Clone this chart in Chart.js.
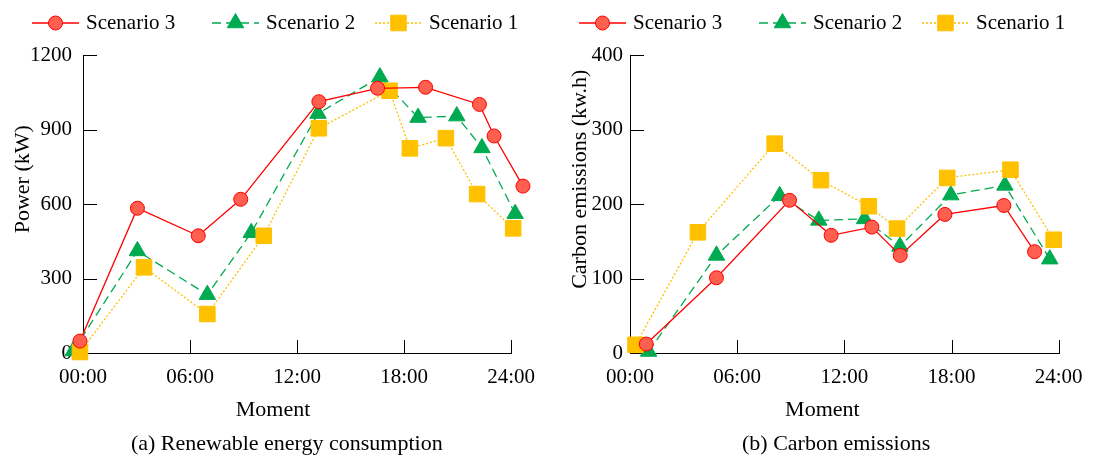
<!DOCTYPE html>
<html><head><meta charset="utf-8">
<script src="https://cdn.jsdelivr.net/npm/chart.js"></script>
<style>
html,body{margin:0;padding:0;background:#fff;}
#wrap{position:relative;width:1094px;height:457px;background:#fff;}
canvas{position:absolute;top:0;}
</style></head><body>
<div id="wrap">
<canvas id="c1" width="547" height="457" style="left:0px"></canvas>
<canvas id="c2" width="547" height="457" style="left:547px"></canvas>
</div>
<script>
// ---------- DATA ----------
const seriesNames = ['Scenario 3', 'Scenario 2', 'Scenario 1'];
const tickHours = [0, 6, 12, 18, 24];
const xTickLabels = ['00:00', '06:00', '12:00', '18:00', '24:00'];
const powerTicks = [0, 300, 600, 900, 1200];
const carbonTicks = [0, 100, 200, 300, 400];

const powerHoursS3 = [-0.17, 3.05, 6.46, 8.84, 13.22, 16.51, 19.2, 22.22, 23.04, 24.66];
const powerS3      = [48, 583, 472, 619, 1012, 1066, 1070, 1001, 874, 672];
const powerHoursS2 = [-0.55, 3.05, 6.97, 9.43, 13.17, 16.64, 18.78, 20.95, 22.36, 24.22];
const powerS2      = [8, 411, 235, 484, 964, 1111, 948, 954, 826, 561];
const powerHoursS1 = [-0.17, 3.42, 6.97, 10.13, 13.22, 17.18, 18.32, 20.34, 22.09, 24.11];
const powerS1      = [4, 345, 157, 472, 905, 1056, 824, 865, 640, 502];

const carbonHoursS3 = [0.91, 4.84, 8.93, 11.26, 13.54, 15.13, 17.63, 20.93, 22.65];
const carbonS3      = [12, 101, 205, 158, 169, 131, 186, 198, 136];
const carbonHoursS2 = [1.04, 4.84, 8.38, 10.57, 13.13, 15.11, 17.96, 20.99, 23.5];
const carbonS2      = [2, 131, 211, 178, 180, 143, 212, 225, 126];
const carbonHoursS1 = [0.31, 3.8, 8.1, 10.69, 13.37, 14.95, 17.76, 21.3, 23.72];
const carbonS1      = [11, 162, 281, 232, 197, 167, 235, 246, 152];

// ---------- STYLE ----------
const FONT = "'Liberation Serif', 'Times New Roman', Times, serif";
const NB = '\u00A0';
const styles = [
  {borderColor:'#FF0000', pointBackgroundColor:'#FF5F4F', pointBorderColor:'#FF0000', pointStyle:'circle', pointRadius:7, pointBorderWidth:1, borderDash:[], order:0},
  {borderColor:'#00AA50', pointBackgroundColor:'#00AA50', pointBorderColor:'#00AA50', pointStyle:'triangle', pointRadius:9.5, pointBorderWidth:1, borderDash:[9,5], order:2},
  {borderColor:'#FFC000', pointBackgroundColor:'#FFC000', pointBorderColor:'#FFC000', pointStyle:'rect', pointRadius:11, pointBorderWidth:1, borderDash:[2,2], order:1}
];

function makeDataset(i, hours, vals) {
  const s = styles[i];
  return Object.assign({
    label: seriesNames[i],
    data: hours.map((h, k) => ({x: h, y: vals[k]})),
    borderWidth: 1.3,
    backgroundColor: s.pointBackgroundColor,
    fill: false,
    tension: 0,
    clip: false,
    pointHoverRadius: s.pointRadius
  }, s);
}

const axesPlugin = {
  id: 'axesPlugin',
  beforeDatasetsDraw(chart) {
    const {ctx, chartArea: a} = chart;
    const xs = chart.scales.x, ys = chart.scales.y;
    const xEnd = Math.round(xs.getPixelForValue(tickHours[tickHours.length - 1])) + 0.5;
    const yb = Math.round(a.bottom) + 0.5;
    ctx.save();
    ctx.strokeStyle = '#000';
    ctx.lineWidth = 1;
    ctx.beginPath();
    // bottom axis line up to the last tick
    ctx.moveTo(Math.round(a.left), yb); ctx.lineTo(xEnd + 0.5, yb);
    xs.ticks.forEach(t => {
      const px = Math.round(xs.getPixelForValue(t.value)) + 0.5;
      ctx.moveTo(px, a.bottom); ctx.lineTo(px, a.bottom - 13);
    });
    ys.ticks.forEach(t => {
      const py = Math.round(ys.getPixelForValue(t.value)) + 0.5;
      ctx.moveTo(a.left, py); ctx.lineTo(a.left + 14, py);
    });
    ctx.stroke();
    ctx.restore();
  }
};

const legendLine = {
  id: 'legendLine',
  afterDraw(chart) {
    const ctx = chart.ctx;
    const starts = [32, 212, 375];
    const lineLen = 47, y = 23;
    chart.data.datasets.forEach((ds, i) => {
      const x0 = starts[i];
      ctx.save();
      ctx.strokeStyle = ds.borderColor;
      ctx.lineWidth = ds.borderWidth;
      ctx.setLineDash(ds.borderDash || []);
      ctx.beginPath(); ctx.moveTo(x0, y); ctx.lineTo(x0 + lineLen, y); ctx.stroke();
      ctx.setLineDash([]);
      ctx.fillStyle = ds.pointBackgroundColor;
      ctx.strokeStyle = ds.pointBorderColor;
      ctx.lineWidth = ds.pointBorderWidth;
      Chart.helpers.drawPoint(ctx, {pointStyle: ds.pointStyle, radius: ds.pointRadius, rotation: 0, borderWidth: ds.pointBorderWidth}, x0 + lineLen / 2, y);
      ctx.fillStyle = '#000';
      ctx.font = '21px ' + FONT;
      ctx.textBaseline = 'middle';
      ctx.textAlign = 'left';
      ctx.fillText(ds.label, x0 + lineLen + 7, y);
      ctx.restore();
    });
  }
};

function makeChart(id, cfg) {
  return new Chart(document.getElementById(id), {
    type: 'line',
    data: {datasets: cfg.datasets},
    options: {
      responsive: false, animation: false, devicePixelRatio: 1, events: [],
      layout: {padding: {top: 55, right: cfg.padRight, left: 0, bottom: 0}},
      plugins: {
        legend: {display: false},
        tooltip: {enabled: false},
        title: {display: true, position: 'bottom', fullSize: false, text: cfg.caption,
                font: {family: FONT, size: 22, weight: 'normal'}, color: '#000', padding: {top: 0, bottom: 0}}
      },
      scales: {
        x: {
          type: 'linear', min: 0, max: cfg.xMax,
          afterBuildTicks: s => { s.ticks = tickHours.map(v => ({value: v})); },
          afterFit: s => { s.height = 77.6; },
          grid: {display: false, drawTicks: false},
          border: {display: false},
          ticks: {padding: 11.4, color: '#000', font: {family: FONT, size: 21},
                  maxRotation: 0, autoSkip: false,
                  callback: v => { const k = tickHours.indexOf(v); return k >= 0 ? xTickLabels[k] : ''; }},
          title: {display: true, text: cfg.xTitle, color: '#000', font: {family: FONT, size: 22}, padding: {top: 0, bottom: 7.4}}
        },
        y: {
          type: 'linear', min: 0, max: cfg.yTicks[cfg.yTicks.length - 1],
          afterBuildTicks: s => { s.ticks = cfg.yTicks.map(v => ({value: v})); },
          afterFit: s => { s.width = 83; },
          grid: {display: false, drawTicks: false},
          border: {display: true, color: '#000', width: 1},
          ticks: {padding: cfg.yPad, color: '#000', font: {family: FONT, size: 21}, callback: v => String(v)},
          title: {display: true, text: cfg.yTitle, color: '#000', font: {family: FONT, size: 22}, padding: {top: cfg.yTitlePad, bottom: 0}}
        }
      }
    },
    plugins: [axesPlugin, legendLine]
  });
}

// left chart: x range extended to 25 h so the last marker past 24:00 is drawn; axis line still ends at 24:00
makeChart('c1', {
  datasets: [makeDataset(0, powerHoursS3, powerS3), makeDataset(1, powerHoursS2, powerS2), makeDataset(2, powerHoursS1, powerS1)],
  xMax: 25, padRight: 10.9, yTicks: powerTicks, yPad: 11, yTitlePad: 10.3,
  yTitle: NB.repeat(9) + 'Power (kW)',
  xTitle: 'Moment' + NB.repeat(12),
  caption: '(a) Renewable energy consumption' + NB.repeat(7)
});
makeChart('c2', {
  datasets: [makeDataset(0, carbonHoursS3, carbonS3), makeDataset(1, carbonHoursS2, carbonS2), makeDataset(2, carbonHoursS1, carbonS1)],
  xMax: 24, padRight: 28, yTicks: carbonTicks, yPad: 7, yTitlePad: 20.3,
  yTitle: NB.repeat(9) + 'Carbon emissions (kw.h)',
  xTitle: 'Moment' + NB.repeat(8),
  caption: '(b) Carbon emissions' + NB.repeat(3)
});
</script>
</body></html>
